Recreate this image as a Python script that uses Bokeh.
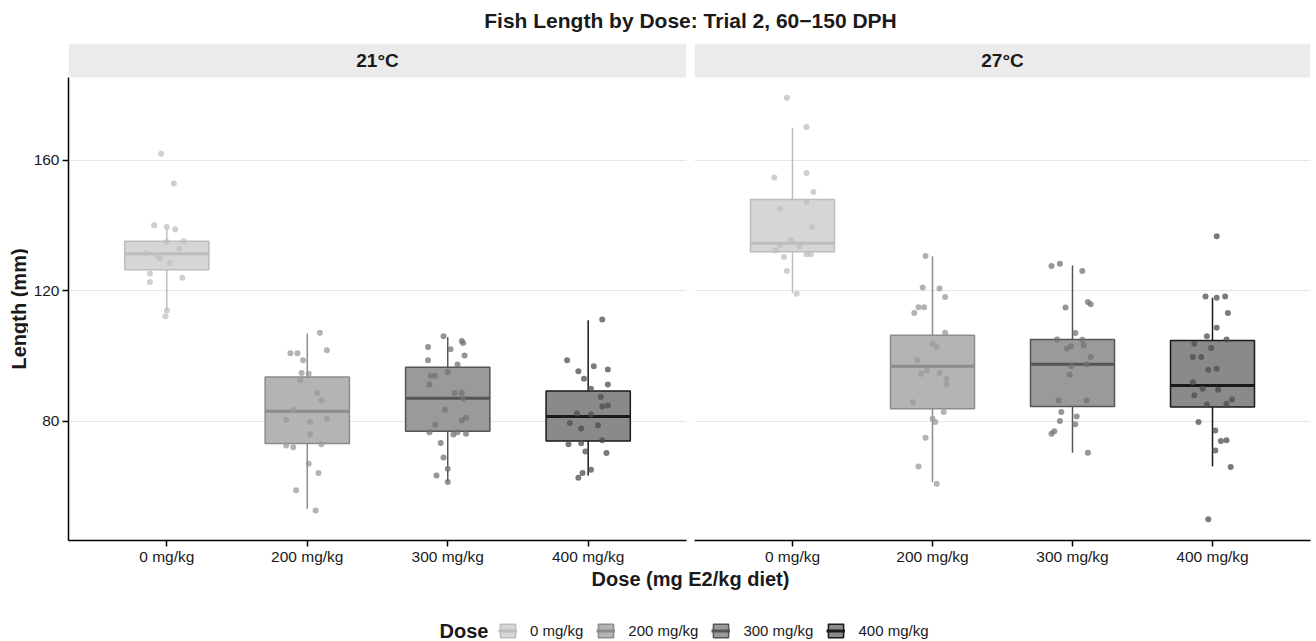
import math
from bokeh.plotting import figure
from bokeh.models import (ColumnDataSource, Range1d, FactorRange, FixedTicker, Grid,
                          BoxAnnotation, Label, Legend, LegendItem)
from bokeh.layouts import column, row
from bokeh.core.properties import value
from bokeh.embed import file_html
from bokeh.resources import INLINE

# ---------------- data ----------------
title_text = "Fish Length by Dose: Trial 2, 60\u2212150 DPH"
x_title = "Dose (mg E2/kg diet)"
y_title = "Length (mm)"
legend_title = "Dose"
temps = ["21°C", "27°C"]
doses = ["0 mg/kg", "200 mg/kg", "300 mg/kg", "400 mg/kg"]
y_ticks = [80, 120, 160]

# box statistics (lower whisker, q1, median, q3, upper whisker)
lo_21 = [114.0, 53.2, 61.4, 63.4]
q1_21 = [126.5, 73.2, 77.0, 74.0]
med_21 = [131.4, 83.1, 87.1, 81.5]
q3_21 = [135.2, 93.6, 96.6, 89.3]
hi_21 = [138.9, 106.9, 105.8, 111.0]

lo_27 = [119.3, 61.4, 70.4, 66.2]
q1_27 = [132.0, 83.9, 84.6, 84.4]
med_27 = [134.6, 96.9, 97.5, 91.0]
q3_27 = [148.0, 106.4, 105.1, 104.8]
hi_27 = [170.0, 130.6, 127.8, 117.9]

# individual fish (length, horizontal jitter in category units)
len21_0 = [162.0, 152.9, 140.1, 139.6, 138.9, 135.2, 135.0, 133.0, 131.5, 130.9, 130.0, 128.5,
           125.3, 124.0, 122.7, 114.0, 112.2]
jit21_0 = [-0.04, 0.05, -0.09, 0.00, 0.06, 0.12, 0.00, 0.09, -0.15, -0.07, -0.05, 0.02,
           -0.12, 0.11, -0.12, 0.00, -0.01]
len21_200 = [107.2, 101.8, 100.9, 100.9, 98.7, 94.8, 94.6, 92.6, 88.7, 86.4, 83.6, 80.5, 79.8,
             80.8, 76.0, 72.6, 72.1, 73.0, 67.0, 64.2, 58.9, 52.7]
jit21_200 = [0.09, 0.14, -0.12, -0.07, -0.03, -0.04, 0.01, -0.05, 0.07, 0.10, -0.10, -0.15, 0.02,
             0.14, 0.02, -0.15, -0.10, 0.10, 0.01, 0.08, -0.08, 0.06]
len21_300 = [106.1, 104.6, 104.0, 102.8, 102.1, 100.2, 98.7, 97.4, 94.0, 94.0, 95.1, 91.3, 88.7,
             88.7, 87.0, 83.6, 81.1, 80.3, 79.0, 76.7, 76.0, 76.7, 76.2, 73.4, 68.9, 65.5, 63.4, 61.4]
jit21_300 = [-0.03, 0.10, 0.11, -0.14, 0.02, 0.12, -0.14, 0.07, -0.12, -0.09, 0.00, -0.13, 0.05,
             0.10, 0.11, -0.02, 0.13, 0.10, -0.09, -0.13, 0.04, 0.07, 0.13, -0.05, -0.03, 0.00, -0.08, 0.00]
len21_400 = [111.2, 98.7, 96.9, 95.4, 95.9, 93.1, 91.3, 90.0, 87.5, 84.6, 84.9, 82.4, 82.1, 79.5,
             78.8, 77.8, 74.2, 73.0, 73.3, 70.8, 70.3, 65.2, 64.2, 62.7]
jit21_400 = [0.10, -0.15, 0.04, -0.07, 0.14, -0.03, 0.14, 0.02, 0.09, 0.10, 0.14, -0.08, 0.02, -0.13,
             0.07, -0.05, 0.10, -0.14, -0.05, -0.02, 0.13, 0.02, -0.04, -0.07]

len27_0 = [179.2, 170.2, 154.7, 156.1, 150.3, 145.2, 147.2, 139.6, 135.5, 133.5, 134.0, 132.4,
           130.4, 131.2, 131.2, 126.1, 119.1]
jit27_0 = [-0.04, 0.10, -0.13, 0.10, 0.15, -0.09, 0.10, 0.14, -0.01, 0.05, -0.09, -0.12,
           -0.06, 0.10, 0.13, -0.04, 0.03]
len27_200 = [130.7, 121.0, 120.7, 118.1, 115.0, 115.0, 113.2, 107.2, 103.8, 102.8, 98.7, 94.6,
             95.6, 94.8, 93.1, 91.3, 85.9, 82.9, 80.8, 79.8, 75.0, 66.2, 60.9]
jit27_200 = [-0.05, -0.07, 0.05, 0.09, -0.10, -0.06, -0.13, 0.09, 0.00, 0.03, -0.11, -0.08,
             -0.04, 0.05, 0.10, 0.10, -0.14, 0.08, 0.00, 0.02, -0.05, -0.10, 0.03]
len27_300 = [127.6, 128.3, 126.1, 114.9, 116.6, 115.9, 107.1, 105.1, 105.0, 103.3, 102.3, 103.0,
             99.7, 96.9, 94.4, 97.5, 86.4, 86.4, 82.9, 81.5, 80.1, 79.1, 77.0, 76.2, 70.4]
jit27_300 = [-0.15, -0.09, 0.07, -0.05, 0.11, 0.13, 0.02, -0.11, 0.07, 0.08, -0.04, -0.01,
             0.13, -0.01, -0.02, 0.10, -0.10, 0.10, -0.08, 0.03, -0.09, 0.02, -0.13, -0.15, 0.11]
len27_400 = [136.7, 118.3, 117.9, 118.3, 113.2, 108.7, 106.1, 105.1, 103.8, 102.5, 99.7, 99.7,
             95.8, 96.1, 92.0, 90.0, 89.7, 88.0, 86.7, 85.2, 85.4, 79.8, 77.2, 74.0, 74.2, 71.1, 66.0, 50.0]
jit27_400 = [0.03, -0.05, 0.03, 0.09, 0.11, 0.03, -0.04, 0.10, -0.13, -0.01, -0.14, -0.08,
             -0.03, 0.03, -0.14, -0.07, 0.04, -0.13, 0.14, -0.04, 0.10, -0.10, 0.02, 0.06, 0.10, 0.02, 0.13, -0.03]

# ---------------- style ----------------
FONT = "Liberation Sans"
box_fill = ["#d6d6d6", "#b4b4b4", "#9a9a9a", "#8a8a8a"]
box_line = ["#bdbdbd", "#8c8c8c", "#555555", "#1a1a1a"]
pt_color = ["#bfbfbf", "#999999", "#737373", "#4d4d4d"]
TXT = "#1a1a1a"
TICK_FS = "15.5px"

Y_LO, STRIP_Y0, Y_HI = 43.5, 185.4, 195.8
y_range = Range1d(Y_LO, Y_HI)
PANEL_H = 525
BOTTOM = 28
TOTAL_W = 1316


def bare(p):
    p.outline_line_color = None
    p.grid.visible = False
    p.background_fill_color = "white"
    p.border_fill_color = "white"


def style_xaxis(p):
    ax = p.xaxis[0]
    ax.axis_line_color = "black"
    ax.axis_line_width = 1.5
    ax.major_tick_line_color = "black"
    ax.major_tick_line_width = 1.5
    ax.major_tick_out = 6
    ax.major_tick_in = 0
    ax.minor_tick_line_color = None
    ax.major_label_text_font = FONT
    ax.major_label_text_font_size = TICK_FS
    ax.major_label_text_color = TXT
    ax.major_label_standoff = 1


def panel(temp, stats, groups, width, border_left, border_right, show_y):
    lo, q1, med, q3, hi = stats
    p = figure(width=width, height=PANEL_H,
               x_range=FactorRange(factors=list(doses), range_padding=0.2,
                                   range_padding_units="absolute"),
               y_range=y_range, title=None, tools="", toolbar_location=None,
               output_backend="svg", y_axis_location="left" if show_y else None,
               min_border_left=border_left, min_border_right=border_right,
               min_border_top=0, min_border_bottom=BOTTOM)
    bare(p)
    if show_y:
        ay = p.yaxis[0]
        ay.ticker = FixedTicker(ticks=y_ticks)
        ay.bounds = (Y_LO, STRIP_Y0)
        ay.axis_line_color = "black"
        ay.axis_line_width = 1.5
        ay.major_tick_line_color = "black"
        ay.major_tick_line_width = 1.5
        ay.major_tick_out = 6
        ay.major_tick_in = 0
        ay.minor_tick_line_color = None
        ay.major_label_text_font = FONT
        ay.major_label_text_font_size = TICK_FS
        ay.major_label_text_color = TXT
        ay.major_label_standoff = 3
    p.add_layout(Grid(dimension=1, ticker=FixedTicker(ticks=y_ticks),
                      grid_line_color="#e6e6e6", grid_line_width=1))
    style_xaxis(p)

    # facet strip
    p.add_layout(BoxAnnotation(bottom=STRIP_Y0, fill_color="#ebebeb", fill_alpha=1.0,
                               line_color=None))
    p.add_layout(Label(x=2.0, y=(STRIP_Y0 + Y_HI) / 2, text=temp, text_align="center",
                       text_baseline="middle", text_font=FONT, text_font_size="19px",
                       text_font_style="bold", text_color=TXT))

    src = ColumnDataSource(dict(
        dose=list(doses), lo=lo, q1=q1, med=med, q3=q3, hi=hi,
        mx0=[(d, -0.3) for d in doses], mx1=[(d, 0.3) for d in doses],
        fill=box_fill, line=box_line))
    p.segment(x0="dose", y0="q3", x1="dose", y1="hi", line_color="line", line_width=1.5, source=src)
    p.segment(x0="dose", y0="lo", x1="dose", y1="q1", line_color="line", line_width=1.5, source=src)
    p.vbar(x="dose", width=0.6, bottom="q1", top="q3", fill_color="fill", line_color="line",
           line_width=1.5, source=src)
    p.segment(x0="mx0", y0="med", x1="mx1", y1="med", line_color="line", line_width=3, source=src)

    xs, ys, cs = [], [], []
    for d, (vals, jit), col in zip(doses, groups, pt_color):
        for v, j in zip(vals, jit):
            xs.append((d, j))
            ys.append(v)
            cs.append(col)
    p.scatter(x="x", y="y", size=6, fill_color="c", line_color=None, fill_alpha=0.75,
              source=ColumnDataSource(dict(x=xs, y=ys, c=cs)))
    return p


# y-axis title strip
YF_W = 28
yf = figure(width=YF_W, height=PANEL_H, x_range=Range1d(0, YF_W), y_range=y_range, title=None,
            tools="", toolbar_location=None, output_backend="svg",
            x_axis_location=None, y_axis_location=None,
            min_border_left=0, min_border_right=0, min_border_top=0, min_border_bottom=BOTTOM)
bare(yf)
yf.add_layout(Label(x=18, y=(Y_LO + STRIP_Y0) / 2, text=y_title, angle=math.pi / 2,
                    text_align="center", text_baseline="middle", text_font=FONT,
                    text_font_size="20px", text_font_style="bold", text_color=TXT))

pL = panel(temps[0], (lo_21, q1_21, med_21, q3_21, hi_21),
           [(len21_0, jit21_0), (len21_200, jit21_200), (len21_300, jit21_300), (len21_400, jit21_400)],
           width=662, border_left=40, border_right=4, show_y=True)
pR = panel(temps[1], (lo_27, q1_27, med_27, q3_27, hi_27),
           [(len27_0, jit27_0), (len27_200, jit27_200), (len27_300, jit27_300), (len27_400, jit27_400)],
           width=TOTAL_W - YF_W - 662, border_left=4, border_right=6, show_y=False)

# title
TOP_H = 43
top = figure(width=TOTAL_W, height=TOP_H, x_range=Range1d(0, TOTAL_W), y_range=Range1d(0, TOP_H),
             title=None, tools="", toolbar_location=None, output_backend="svg",
             x_axis_location=None, y_axis_location=None, min_border=0)
bare(top)
top.add_layout(Label(x=690, y=TOP_H - 20, text=title_text, text_align="center", text_baseline="middle",
                     text_font=FONT, text_font_size="21px", text_font_style="bold", text_color=TXT))

# x title + legend
BOT_H = 641 - TOP_H - PANEL_H
bot = figure(width=TOTAL_W, height=BOT_H, x_range=Range1d(0, TOTAL_W), y_range=Range1d(0, BOT_H),
             title=None, tools="", toolbar_location=None, output_backend="svg",
             x_axis_location=None, y_axis_location=None, min_border=0)
bare(bot)
bot.add_layout(Label(x=690, y=BOT_H - 10, text=x_title, text_align="center", text_baseline="middle",
                     text_font=FONT, text_font_size="20px", text_font_style="bold", text_color=TXT))
bot.add_layout(Label(x=439, y=11, text=legend_title, text_align="left", text_baseline="middle",
                     text_font=FONT, text_font_size="20px", text_font_style="bold", text_color=TXT))

leg_src = ColumnDataSource(dict(x=[-1000] * len(doses), y=[-1000] * len(doses),
                                fill=box_fill, line=box_line))
r_box = bot.rect(x="x", y="y", width=1, height=1, fill_color="fill", line_color="line",
                 line_width=1.5, source=leg_src)
r_med = bot.segment(x0="x", y0="y", x1="x", y1="y", line_color="line", line_width=3, source=leg_src)
items = [LegendItem(label=value(d), renderers=[r_box, r_med], index=i) for i, d in enumerate(doses)]
legend = Legend(items=items, orientation="horizontal", location=(498, 2), padding=0, margin=0,
                spacing=13, glyph_width=19, glyph_height=17, label_standoff=13,
                label_text_font=FONT, label_text_font_size="15px", label_text_color=TXT,
                background_fill_alpha=0, border_line_color=None)
bot.add_layout(legend)

layout = column(top, row(yf, pL, pR), bot)
open("out.html", "w").write(file_html(layout, INLINE))
